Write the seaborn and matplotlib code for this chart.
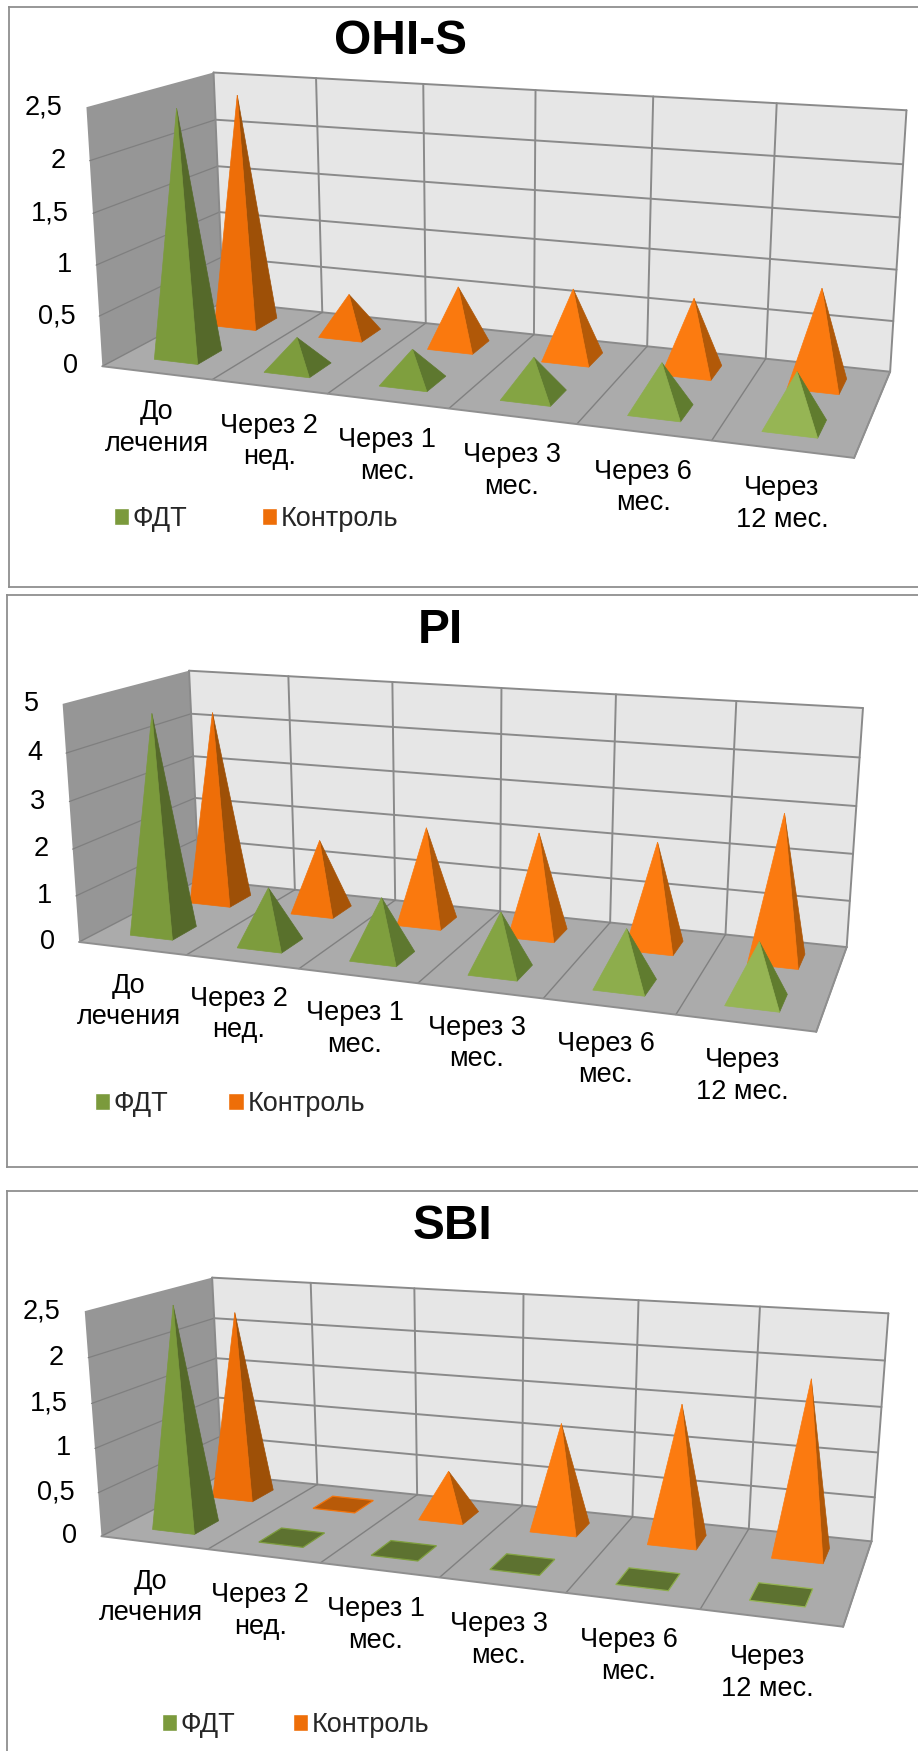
import numpy as np
import matplotlib
matplotlib.use("Agg")
import matplotlib.pyplot as plt
from matplotlib.patches import Patch, Polygon
import seaborn as sns

# Categories and series
categories = ["До\nлечения", "Через 2\nнед.", "Через 1\nмес.", "Через 3\nмес.", "Через 6\nмес.", "Через\n12 мес."]
series_names = ["ФДТ", "Контроль"]

# Index values per chart
ohis_fdt = [2.43, 0.30, 0.31, 0.36, 0.44, 0.49]
ohis_control = [2.38, 0.41, 0.60, 0.69, 0.71, 0.92]
pi_fdt = [4.68, 1.20, 1.24, 1.20, 1.13, 1.15]
pi_control = [4.30, 1.60, 2.10, 2.20, 2.22, 3.03]
sbi_fdt = [2.50, 0, 0, 0, 0, 0]
sbi_control = [2.21, 0, 0.53, 1.20, 1.52, 1.89]

ohis_ticks = [0, 0.5, 1, 1.5, 2, 2.5]
pi_ticks = [0, 1, 2, 3, 4, 5]
sbi_ticks = [0, 0.5, 1, 1.5, 2, 2.5]

W, H = 918, 1751
sns.set_theme(style="white")
plt.rcParams["font.family"] = ["Liberation Sans", "DejaVu Sans"]

# Face colours per time point, lighter towards the right of the box
fdt_front = sns.blend_palette(["#7b9a3c", "#80a03f", "#96b554"], 6)
fdt_side = sns.blend_palette(["#55692a", "#607c30", "#607c2e"], 6)
ctl_front = sns.blend_palette(["#ee6e08", "#fd7c10", "#fb7a10"], 6)
ctl_side = sns.blend_palette(["#9e5007", "#b55a08", "#b05808"], 6)
FLAT_FDT, FLAT_CTL = "#5d7230", "#b85a08"
SWATCH_FDT, SWATCH_CTL = "#7b9a3c", "#ee6e08"

WALL, SIDE, FLOOR, LINE, SIDE_LINE = "#e6e6e6", "#969696", "#ababab", "#8a8a8a", "#7f7f7f"
BORDER = "#8f8f8f"

# Box rows run back from the front floor edge; the series sit at fixed depths
DEPTH_FDT, DEPTH_CTL = 0.25, 0.75
BASE_W, BASE_D = 0.40, 0.20


def fit_camera(front, back, top, side_top):
    """Least-squares projective camera from box corners (category, height, depth) to figure pixels."""
    world, pix = [], []
    for i in range(7):
        world += [(i, 0, 0), (i, 0, 1), (i, 1, 1)]
        pix += [front[i], back[i], top[i]]
    world.append((0, 1, 0))
    pix.append(side_top)
    rows, rhs = [], []
    for (X, Y, Z), (x, y) in zip(world, pix):
        rows.append([X, Y, Z, 1, 0, 0, 0, 0, -x * X, -x * Y, -x * Z])
        rhs.append(x)
        rows.append([0, 0, 0, 0, X, Y, Z, 1, -y * X, -y * Y, -y * Z])
        rhs.append(y)
    p = np.linalg.lstsq(np.array(rows, float), np.array(rhs, float), rcond=None)[0]
    return np.append(p, 1.0).reshape(3, 4)


def project(cam, x, h, z):
    v = cam @ np.array([x, h, z, 1.0])
    return v[0] / v[2], v[1] / v[2]


def draw_box(ax, cam):
    poly = lambda pts, c: ax.add_patch(Polygon([project(cam, *p) for p in pts], closed=True,
                                               facecolor=c, edgecolor="none", zorder=1))
    poly([(0, 0, 0), (0, 1, 0), (0, 1, 1), (0, 0, 1)], SIDE)
    poly([(0, 0, 1), (0, 1, 1), (6, 1, 1), (6, 0, 1)], WALL)
    poly([(0, 0, 0), (6, 0, 0), (6, 0, 1), (0, 0, 1)], FLOOR)

    def seg(a, b, c=LINE, lw=1.4):
        pa, pb = project(cam, *a), project(cam, *b)
        ax.plot([pa[0], pb[0]], [pa[1], pb[1]], color=c, lw=lw, zorder=2, solid_capstyle="round")

    for h in np.linspace(0, 1, 6):
        seg((0, h, 1), (6, h, 1))
        if 0 < h < 1:
            seg((0, h, 0), (0, h, 1), SIDE_LINE, 0.9)
    for i in range(7):
        seg((i, 0, 1), (i, 1, 1))
        seg((i, 0, 0), (i, 0, 1), "#808080", 1.0)
    seg((0, 0, 0), (6, 0, 0), "#8f8f8f", 1.4)
    seg((6, 0, 0), (6, 0, 1), "#8f8f8f", 1.4)


def draw_pyramid(ax, cam, i, depth, height, front, side, flat):
    x0, x1 = i + 0.5 - BASE_W / 2, i + 0.5 + BASE_W / 2
    z0, z1 = depth - BASE_D / 2, depth + BASE_D / 2
    fl, fr = project(cam, x0, 0, z0), project(cam, x1, 0, z0)
    bl, br = project(cam, x0, 0, z1), project(cam, x1, 0, z1)
    apex = project(cam, i + 0.5, height, depth)
    if height == 0:
        ax.add_patch(Polygon([fl, fr, br, bl], closed=True, facecolor=flat, edgecolor=front, lw=0.9, zorder=3))
        return
    ax.add_patch(Polygon([fr, br, apex], closed=True, facecolor=side, edgecolor=side, lw=0.5, zorder=3))
    ax.add_patch(Polygon([fl, fr, apex], closed=True, facecolor=front, edgecolor=front, lw=0.5, zorder=3))


# Each panel: title, values, ticks, chart frame and the box corners in figure pixels
panels = [
    dict(title="OHI-S", fdt=ohis_fdt, ctl=ohis_control, ticks=ohis_ticks,
         frame=(9, 7, 918, 587), hide=("right",), title_xy=(400, 42), label_dx=0, label_dy=55,
         legend_xy=(114, 519), col_space=2.73,
         front=[(102, 366), (213, 377), (330, 394), (448, 410), (576, 425), (711, 439), (855, 459)],
         back=[(222, 306), (322, 311), (427, 323), (533, 334), (646, 345), (766, 359), (891, 371)],
         top=[(215, 71), (317, 78), (423, 84), (535, 89), (653, 97), (776, 104), (907, 111)],
         side_top=(85, 108)),
    dict(title="PI", fdt=pi_fdt, ctl=pi_control, ticks=pi_ticks,
         frame=(7, 595, 918, 1167), hide=("right",), title_xy=(440, 630), label_dx=-3, label_dy=53,
         legend_xy=(95, 1104), col_space=2.2,
         front=[(79, 942), (188, 955), (300, 968), (417, 984), (543, 998), (675, 1015), (816, 1034)],
         back=[(197, 884), (295, 888), (396, 899), (500, 910), (610, 922), (726, 934), (847, 946)],
         top=[(190, 670), (289, 677), (392, 683), (501, 687), (615, 695), (736, 702), (864, 708)],
         side_top=(62, 702)),
    dict(title="SBI", fdt=sbi_fdt, ctl=sbi_control, ticks=sbi_ticks,
         frame=(7, 1191, 918, 1751), hide=("right", "bottom"), title_xy=(453, 1226), label_dx=-3, label_dy=55,
         legend_xy=(162, 1725), col_space=2.1,
         front=[(101, 1536), (210, 1548), (322, 1562), (439, 1579), (565, 1593), (700, 1609), (843, 1628)],
         back=[(221, 1478), (317, 1483), (417, 1494), (521, 1504), (632, 1517), (750, 1529), (872, 1541)],
         top=[(213, 1277), (312, 1284), (414, 1288), (524, 1294), (638, 1299), (760, 1308), (888, 1313)],
         side_top=(83, 1311)),
]

fig = plt.figure(figsize=(W / 100, H / 100), dpi=100, facecolor="white")
FS = 19.5

for cfg in panels:
    left, upper, right, lower = cfg["frame"]
    ax = fig.add_axes([left / W, 1 - lower / H, (right - left) / W, (lower - upper) / H])
    ax.set_xlim(left, right)
    ax.set_ylim(lower, upper)
    ax.set_xticks([])
    ax.set_yticks([])
    for name, sp in ax.spines.items():
        sp.set_color(BORDER)
        sp.set_linewidth(1.3)
        sp.set_visible(name not in cfg["hide"])

    cam = fit_camera(cfg["front"], cfg["back"], cfg["top"], cfg["side_top"])
    draw_box(ax, cam)
    ymax = max(cfg["ticks"])

    for i in range(len(categories)):
        draw_pyramid(ax, cam, i, DEPTH_CTL, cfg["ctl"][i] / ymax, ctl_front[i], ctl_side[i], FLAT_CTL)
    for i in range(len(categories)):
        draw_pyramid(ax, cam, i, DEPTH_FDT, cfg["fdt"][i] / ymax, fdt_front[i], fdt_side[i], FLAT_FDT)

    for t in cfg["ticks"]:
        px, py = project(cam, 0, t / ymax, 0)
        ax.text(px - 24, py, f"{t:g}".replace(".", ","), ha="right", va="center", fontsize=FS, color="black")
    for i, lab in enumerate(categories):
        px, py = project(cam, i + 0.5, 0, 0)
        ax.text(px + cfg["label_dx"], py + cfg["label_dy"], lab, ha="center", va="center", fontsize=FS,
                color="black", linespacing=1.27)
    ax.text(*cfg["title_xy"], cfg["title"], ha="center", va="center", fontsize=34.5,
            fontweight="bold", color="black")

    handles = [Patch(facecolor=SWATCH_FDT, label=series_names[0]),
               Patch(facecolor=SWATCH_CTL, label=series_names[1])]
    ax.legend(handles=handles, ncols=2, loc="center left", bbox_to_anchor=cfg["legend_xy"],
              bbox_transform=ax.transData, frameon=False, fontsize=FS, borderpad=0, borderaxespad=0,
              handlelength=0.57, handleheight=0.57, handletextpad=0.13, columnspacing=cfg["col_space"])

fig.savefig("out.png", dpi=100, facecolor="white")
